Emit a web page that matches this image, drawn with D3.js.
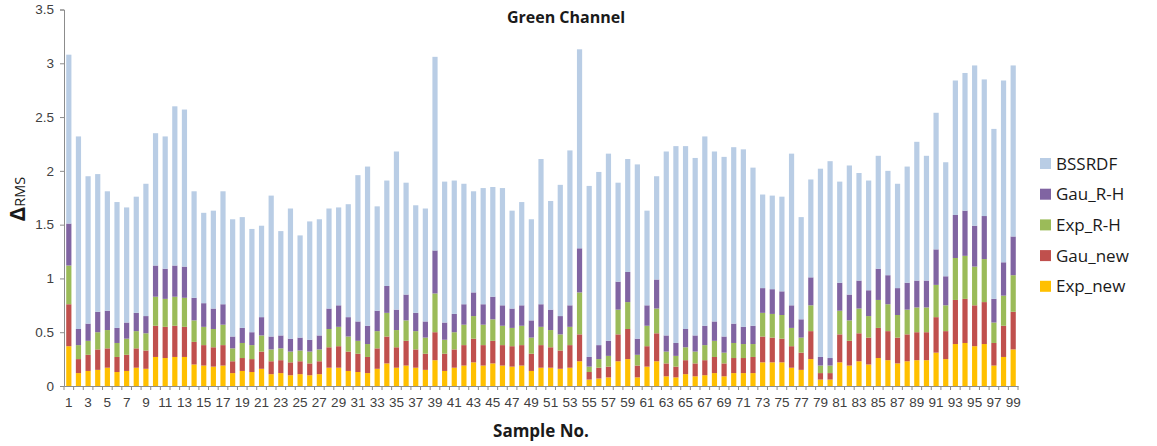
<!DOCTYPE html>
<html>
<head>
<meta charset="utf-8">
<script src="https://cdn.jsdelivr.net/npm/d3@7/dist/d3.min.js"></script>
<style>
  body { margin: 0; background: #fff; }
  svg { font-family: "Open Sans", sans-serif; }
</style>
</head>
<body>
<div id="chart"></div>
<script>
// sample numbers 1..99
var samples = d3.range(1, 100);

// series values (stack order bottom -> top)
var expNew = [.37,.12,.14,.15,.17,.13,.14,.17,.16,.27, .26,.27,.27,.20,.19,.18,.19,.12,.14,.13,
              .16,.11,.12,.10,.11,.10,.11,.17,.17,.14, .13,.12,.16,.21,.17,.19,.17,.15,.24,.14,
              .17,.19,.22,.19,.21,.19,.18,.19,.14,.17, .17,.16,.17,.23,.06,.07,.08,.23,.25,.08,
              .18,.23,.09,.08,.11,.09,.10,.12,.09,.12, .12,.12,.22,.22,.22,.17,.15,.25,.06,.06,
              .22,.19,.23,.20,.26,.24,.21,.23,.24,.24, .31,.25,.39,.40,.37,.39,.19,.27,.34];
var gauNew = [.39,.13,.15,.19,.18,.14,.15,.18,.17,.29, .29,.29,.28,.21,.19,.18,.19,.11,.12,.12,
              .16,.12,.12,.12,.12,.11,.12,.19,.20,.18, .17,.15,.19,.25,.19,.23,.17,.15,.26,.16,
              .17,.19,.22,.19,.21,.19,.19,.19,.16,.21, .19,.17,.21,.25,.07,.10,.10,.25,.28,.11,
              .19,.26,.12,.10,.13,.12,.14,.15,.12,.14, .14,.15,.24,.23,.22,.20,.16,.26,.06,.06,
              .26,.23,.26,.25,.28,.27,.24,.25,.26,.26, .33,.26,.41,.41,.38,.39,.21,.29,.35];
var expRH  = [.36,.13,.13,.16,.17,.13,.15,.16,.16,.27, .26,.27,.27,.20,.17,.17,.19,.12,.14,.13,
              .15,.11,.11,.10,.10,.11,.11,.17,.18,.14, .12,.12,.16,.22,.16,.19,.17,.15,.36,.13,
              .16,.19,.21,.19,.20,.18,.17,.18,.15,.17, .16,.15,.17,.39,.05,.08,.10,.23,.25,.10,
              .19,.23,.11,.10,.12,.11,.14,.15,.10,.14, .13,.12,.22,.22,.22,.17,.14,.24,.07,.07,
              .22,.19,.23,.20,.26,.25,.21,.23,.23,.23, .30,.24,.39,.40,.36,.40,.19,.28,.34];
var gauRH  = [.39,.15,.16,.19,.18,.14,.15,.17,.16,.29, .28,.29,.29,.21,.22,.19,.19,.11,.14,.12,
              .17,.12,.12,.12,.12,.11,.13,.19,.20,.18, .18,.17,.19,.25,.19,.24,.17,.15,.40,.16,
              .17,.19,.22,.19,.21,.19,.18,.19,.16,.21, .19,.17,.20,.41,.09,.13,.14,.26,.28,.15,
              .19,.27,.15,.12,.17,.15,.18,.18,.15,.18, .16,.17,.23,.23,.22,.21,.17,.26,.08,.07,
              .26,.24,.26,.24,.29,.27,.25,.25,.25,.25, .33,.27,.40,.42,.38,.40,.22,.31,.36];
var bssrdf = [1.57,1.79,1.37,1.28,1.11,1.17,1.07,1.08,1.23,1.23, 1.23,1.48,1.46,.99,.84,.91,1.05,1.09,1.03,.96,
              .85,1.31,.97,1.21,.95,1.10,1.08,.93,.91,1.05, 1.36,1.48,.97,.98,1.47,1.04,1.00,1.05,1.80,1.31,
              1.24,1.12,.94,1.08,1.02,1.09,.91,.96,.94,1.35, 1.01,1.22,1.44,1.85,1.59,1.61,1.74,.92,1.05,1.62,
              .88,.96,1.71,1.83,1.70,1.65,1.76,1.58,1.67,1.64, 1.65,1.47,.87,.87,.88,1.41,.95,.91,1.75,1.83,
              .94,1.20,1.00,1.02,1.05,.97,.97,1.08,1.29,1.16, 1.27,1.06,1.25,1.28,1.49,1.27,1.58,1.69,1.59];

var seriesNames = ["Exp_new", "Gau_new", "Exp_R-H", "Gau_R-H", "BSSRDF"];
var seriesValues = [expNew, gauNew, expRH, gauRH, bssrdf];
var colors = ["#ffc000", "#c0504d", "#9bbb59", "#8064a2", "#b9cde5"];
var yTicks = [0, 0.5, 1, 1.5, 2, 2.5, 3, 3.5];

var W = 1157, H = 446;
var svg = d3.select("#chart").append("svg")
            .attr("width", W)
            .attr("height", H);

// table for the stack
var rows = samples.map(function(s, i) {
    var r = {sample: s};
    seriesNames.forEach(function(k, j) { r[k] = seriesValues[j][i]; });
    return r;
});

var x = d3.scaleBand()
          .domain(samples)
          .range([64, 1018])
          .paddingInner(0.46)
          .paddingOuter(0.23);

var y = d3.scaleLinear()
          .domain([0, 3.5])
          .range([386, 9.5]);

var stack = d3.stack().keys(seriesNames)(rows);

// bars
svg.append("g").selectAll("g")
    .data(stack)
    .enter()
    .append("g")
    .attr("fill", function(d, i) { return colors[i]; })
    .selectAll("rect")
    .data(function(d) { return d; })
    .enter()
    .append("rect")
    .attr("x", function(d) { return x(d.data.sample); })
    .attr("y", function(d) { return y(d[1]); })
    .attr("height", function(d) { return y(d[0]) - y(d[1]); })
    .attr("width", x.bandwidth());

// y axis
var yAxis = svg.append("g")
    .attr("transform", "translate(64,0)")
    .call(d3.axisLeft(y).tickValues(yTicks).tickSize(4).tickPadding(6)
          .tickFormat(function(d) { return d; }));
yAxis.select(".domain").attr("stroke", "#8c8c8c");
yAxis.selectAll(".tick line").attr("stroke", "#8c8c8c");
yAxis.selectAll("text").attr("font-size", "13.5px").attr("fill", "#404040");

// x axis: labels on odd samples, ticks on every band edge
var xAxis = svg.append("g")
    .attr("transform", "translate(0,386)")
    .call(d3.axisBottom(x).tickSize(0).tickPadding(11)
          .tickFormat(function(d) { return d % 2 === 1 ? d : ""; }));
xAxis.select(".domain").attr("stroke", "#8c8c8c");
xAxis.selectAll("text").attr("font-size", "13.5px").attr("fill", "#404040");

svg.append("g").selectAll("line")
    .data(d3.range(0, samples.length + 1))
    .enter()
    .append("line")
    .attr("x1", function(i) { return x.range()[0] + i * x.step(); })
    .attr("x2", function(i) { return x.range()[0] + i * x.step(); })
    .attr("y1", 386)
    .attr("y2", 390)
    .attr("stroke", "#8c8c8c");

// titles
svg.append("text")
    .attr("x", 566).attr("y", 23)
    .attr("text-anchor", "middle")
    .attr("font-size", "16px").attr("font-weight", "bold")
    .attr("fill", "#1a1a1a")
    .text("Green Channel");

svg.append("text")
    .attr("x", 541).attr("y", 437)
    .attr("text-anchor", "middle")
    .attr("font-size", "17px").attr("font-weight", "bold")
    .attr("fill", "#1a1a1a")
    .text("Sample No.");

var yt = svg.append("text")
    .attr("transform", "translate(25,199) rotate(-90)")
    .attr("text-anchor", "middle")
    .attr("fill", "#1a1a1a");
yt.append("tspan").attr("font-size", "22px").attr("font-weight", "bold").text("Δ");
yt.append("tspan").attr("font-size", "14.5px").text("RMS");

// legend (top entry is BSSRDF)
var legendOrder = seriesNames.slice().reverse();
var legend = svg.append("g").selectAll("g")
    .data(legendOrder)
    .enter()
    .append("g")
    .attr("transform", function(d, i) { return "translate(1040," + (158 + i * 30.7) + ")"; });

legend.append("rect")
    .attr("width", 11).attr("height", 11)
    .attr("fill", function(d) { return colors[seriesNames.indexOf(d)]; });

legend.append("text")
    .attr("x", 16).attr("y", 11.5)
    .attr("font-size", "17px")
    .attr("fill", "#1a1a1a")
    .text(function(d) { return d; });
</script>
</body>
</html>
